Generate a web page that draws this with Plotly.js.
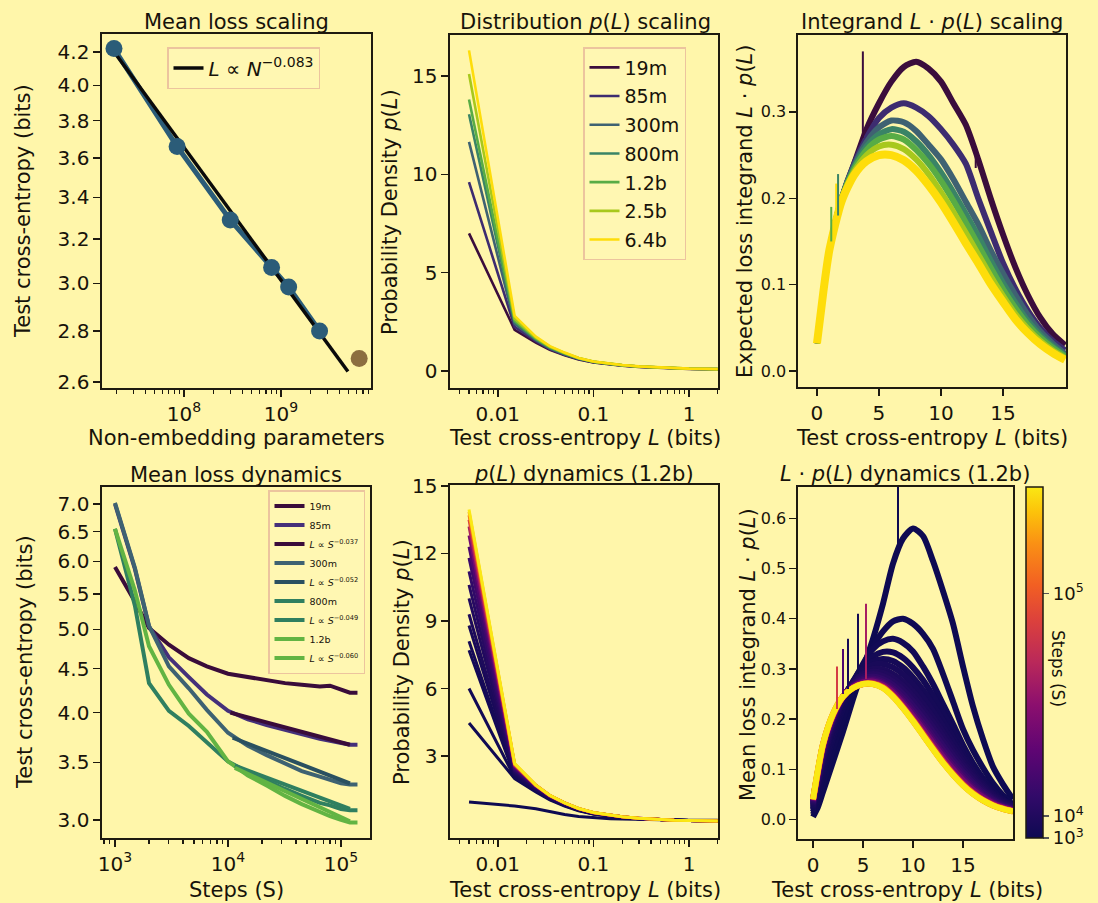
<!DOCTYPE html>
<html><head><meta charset="utf-8">
<script src="https://cdn.plot.ly/plotly-3.0.1.min.js"></script>
<style>html,body{margin:0;padding:0;background:#fff6aa;}#chart{width:1098px;height:903px;}</style>
</head><body><div id="chart"></div>
<script>
// ---------------- DATA ----------------
// Panel 1: mean loss scaling
const PARAMS = [1.9e7, 8.5e7, 3.0e8, 8.0e8, 1.2e9, 2.5e9];
const MEAN_LOSS = [4.22, 3.66, 3.29, 3.07, 2.985, 2.80];
const OUTLIER_PARAMS = [6.4e9];
const OUTLIER_LOSS = [2.69];
const FIT_PARAMS = [1.9e7, 4.9e9];
const FIT_LOSS = [4.20, 2.64];

// Model sizes
const SIZE_LABELS = ['19m', '85m', '300m', '800m', '1.2b', '2.5b', '6.4b'];

// Panel 2: p(L) per model size
const L_BINS = [0.005, 0.015, 0.025, 0.035, 0.05, 0.07, 0.1, 0.15, 0.2, 0.3, 0.5, 0.7, 1, 1.5, 2];
const PDF_19M  = [7.0, 2.1, 1.45, 1.08, 0.8, 0.59, 0.44, 0.33, 0.27, 0.21, 0.16, 0.13, 0.11, 0.1, 0.09];
const PDF_85M  = [9.6, 2.25, 1.52, 1.12, 0.83, 0.61, 0.45, 0.34, 0.28, 0.22, 0.165, 0.135, 0.115, 0.1, 0.095];
const PDF_300M = [11.65, 2.4, 1.58, 1.16, 0.86, 0.63, 0.46, 0.35, 0.29, 0.225, 0.17, 0.14, 0.12, 0.105, 0.1];
const PDF_800M = [13.05, 2.5, 1.62, 1.19, 0.88, 0.64, 0.47, 0.355, 0.295, 0.23, 0.172, 0.142, 0.122, 0.107, 0.1];
const PDF_1_2B = [13.8, 2.55, 1.65, 1.21, 0.9, 0.65, 0.475, 0.36, 0.3, 0.232, 0.174, 0.144, 0.124, 0.108, 0.1];
const PDF_2_5B = [15.1, 2.65, 1.7, 1.24, 0.92, 0.66, 0.48, 0.365, 0.303, 0.235, 0.176, 0.146, 0.125, 0.11, 0.1];
const PDF_6_4B = [16.3, 2.8, 1.75, 1.27, 0.94, 0.67, 0.49, 0.37, 0.305, 0.237, 0.178, 0.148, 0.127, 0.112, 0.1];

// Panel 3: L*p(L) per model size
const L_GRID = [0, 0.5, 1, 2, 3, 4, 5, 6, 7, 8, 9, 10, 11, 12, 13, 14, 15, 16, 17, 18, 19, 20];
const INT_19M  = [0.032, 0.09, 0.14, 0.2, 0.24, 0.28, 0.31, 0.335, 0.352, 0.358, 0.35, 0.335, 0.31, 0.285, 0.245, 0.2, 0.158, 0.12, 0.088, 0.062, 0.043, 0.03];
const INT_85M  = [0.032, 0.09, 0.14, 0.2, 0.24, 0.27, 0.293, 0.305, 0.31, 0.305, 0.295, 0.28, 0.262, 0.24, 0.2, 0.162, 0.125, 0.095, 0.07, 0.05, 0.035, 0.024];
const INT_300M = [0.032, 0.09, 0.14, 0.2, 0.238, 0.265, 0.282, 0.29, 0.288, 0.278, 0.262, 0.245, 0.222, 0.196, 0.17, 0.14, 0.113, 0.088, 0.065, 0.046, 0.032, 0.02];
const INT_800M = [0.032, 0.09, 0.14, 0.2, 0.236, 0.26, 0.274, 0.28, 0.277, 0.266, 0.25, 0.23, 0.207, 0.182, 0.156, 0.128, 0.102, 0.079, 0.058, 0.042, 0.029, 0.018];
const INT_1_2B = [0.032, 0.09, 0.14, 0.2, 0.234, 0.256, 0.268, 0.272, 0.268, 0.256, 0.24, 0.22, 0.197, 0.172, 0.146, 0.12, 0.095, 0.073, 0.054, 0.039, 0.027, 0.017];
const INT_2_5B = [0.032, 0.09, 0.14, 0.199, 0.231, 0.25, 0.26, 0.262, 0.257, 0.245, 0.228, 0.207, 0.184, 0.16, 0.135, 0.11, 0.087, 0.066, 0.049, 0.035, 0.024, 0.015];
const INT_6_4B = [0.032, 0.09, 0.14, 0.197, 0.227, 0.243, 0.25, 0.25, 0.244, 0.232, 0.215, 0.195, 0.172, 0.148, 0.125, 0.101, 0.08, 0.06, 0.044, 0.031, 0.021, 0.013];
// spikes (noise excursions) in panel 3: model index, L, low, high
const SPIKE3_MODEL = [0, 0, 4, 6, 3];
const SPIKE3_L     = [3.7, 12.8, 1.15, 1.55, 1.7];
const SPIKE3_LO    = [0.27, 0.235, 0.15, 0.17, 0.18];
const SPIKE3_HI    = [0.37, 0.26, 0.19, 0.217, 0.228];

// Panel 4: mean loss dynamics
const STEPS = [1000, 1500, 2000, 3000, 4500, 6500, 10000, 15000, 22000, 32000, 45000, 65000, 80000, 100000, 120000, 140000];
const LOSS_19M  = [5.91, 5.39, 5.02, 4.80, 4.63, 4.53, 4.44, 4.40, 4.37, 4.33, 4.31, 4.29, 4.30, 4.26, 4.22, 4.22];
const LOSS_85M  = [7.0, 5.88, 5.04, 4.64, 4.40, 4.20, 4.02, 3.93, 3.87, 3.82, 3.77, 3.73, 3.71, 3.69, 3.67, 3.67];
const LOSS_300M = [7.02, 5.9, 5.05, 4.53, 4.27, 4.03, 3.79, 3.66, 3.57, 3.49, 3.42, 3.37, 3.34, 3.31, 3.30, 3.30];
const LOSS_800M = [6.55, 5.33, 4.33, 4.02, 3.86, 3.70, 3.51, 3.41, 3.33, 3.26, 3.20, 3.14, 3.12, 3.09, 3.08, 3.08];
const LOSS_1_2B = [6.55, 5.55, 4.78, 4.31, 3.99, 3.80, 3.51, 3.38, 3.29, 3.20, 3.13, 3.06, 3.03, 3.00, 2.98, 2.98];
const FIT85_S  = [10500, 120000], FIT85_L  = [4.00, 3.67];
const FIT300_S = [11000, 120000], FIT300_L = [3.74, 3.31];
const FIT800_S = [11500, 120000], FIT800_L = [3.47, 3.09];
const FIT12_S  = [11500, 120000], FIT12_L  = [3.45, 2.99];

// Panels 5 & 6: dynamics of 1.2b model at checkpoints
const DYN_STEPS = [1000, 2000, 3000, 4000, 5000, 6000, 8000, 10000, 13000, 17000, 22000, 30000, 45000, 65000, 85000, 105000, 125000, 143000];
const STEP_MIN = 1000, STEP_MAX = 143000;
const PDF_S1000   = [0.96, 0.78, 0.66, 0.52, 0.4, 0.32, 0.26, 0.22, 0.2, 0.18, 0.17, 0.16, 0.15, 0.15, 0.15];
const PDF_S2000   = [4.47, 2.0, 1.4, 1.05, 0.78, 0.57, 0.42, 0.32, 0.27, 0.21, 0.17, 0.15, 0.14, 0.13, 0.12];
const PDF_S3000   = [6.0, 2.05, 1.45, 1.08, 0.8, 0.59, 0.43, 0.33, 0.27, 0.21, 0.17, 0.15, 0.135, 0.125, 0.12];
const PDF_S4000   = [7.7, 2.1, 1.48, 1.1, 0.82, 0.6, 0.44, 0.335, 0.275, 0.215, 0.17, 0.15, 0.135, 0.125, 0.12];
const PDF_S5000   = [8.1, 2.15, 1.5, 1.12, 0.83, 0.61, 0.45, 0.34, 0.28, 0.22, 0.17, 0.15, 0.135, 0.125, 0.12];
const PDF_S6000   = [8.8, 2.2, 1.53, 1.14, 0.85, 0.62, 0.455, 0.345, 0.285, 0.22, 0.17, 0.15, 0.135, 0.125, 0.12];
const PDF_S8000   = [9.3, 2.25, 1.56, 1.16, 0.86, 0.63, 0.46, 0.35, 0.29, 0.225, 0.172, 0.15, 0.135, 0.125, 0.12];
const PDF_S10000  = [10.0, 2.3, 1.59, 1.18, 0.87, 0.64, 0.465, 0.352, 0.29, 0.225, 0.172, 0.15, 0.135, 0.125, 0.12];
const PDF_S13000  = [10.6, 2.35, 1.61, 1.19, 0.88, 0.645, 0.47, 0.355, 0.293, 0.227, 0.173, 0.15, 0.135, 0.125, 0.12];
const PDF_S17000  = [11.2, 2.4, 1.63, 1.2, 0.89, 0.65, 0.473, 0.357, 0.295, 0.228, 0.173, 0.15, 0.135, 0.125, 0.12];
const PDF_S22000  = [11.8, 2.45, 1.65, 1.21, 0.9, 0.655, 0.476, 0.36, 0.297, 0.23, 0.174, 0.15, 0.135, 0.125, 0.12];
const PDF_S30000  = [12.3, 2.5, 1.67, 1.22, 0.905, 0.66, 0.48, 0.362, 0.299, 0.231, 0.175, 0.15, 0.135, 0.125, 0.12];
const PDF_S45000  = [12.8, 2.55, 1.68, 1.23, 0.91, 0.662, 0.482, 0.363, 0.3, 0.232, 0.175, 0.15, 0.135, 0.125, 0.12];
const PDF_S65000  = [13.2, 2.58, 1.69, 1.24, 0.915, 0.664, 0.484, 0.364, 0.3, 0.232, 0.175, 0.15, 0.135, 0.125, 0.12];
const PDF_S85000  = [13.5, 2.61, 1.7, 1.245, 0.918, 0.666, 0.486, 0.365, 0.301, 0.233, 0.176, 0.15, 0.135, 0.125, 0.12];
const PDF_S105000 = [13.7, 2.63, 1.7, 1.248, 0.92, 0.668, 0.488, 0.366, 0.302, 0.233, 0.176, 0.15, 0.135, 0.125, 0.12];
const PDF_S125000 = [13.85, 2.65, 1.7, 1.25, 0.92, 0.67, 0.49, 0.367, 0.302, 0.234, 0.176, 0.15, 0.135, 0.125, 0.12];
const PDF_S143000 = [13.95, 2.67, 1.71, 1.25, 0.92, 0.67, 0.49, 0.368, 0.303, 0.234, 0.176, 0.15, 0.135, 0.125, 0.12];

const INT_S1000   = [0.005, 0.025, 0.055, 0.115, 0.175, 0.24, 0.3, 0.36, 0.43, 0.51, 0.56, 0.58, 0.565, 0.515, 0.455, 0.39, 0.305, 0.225, 0.16, 0.105, 0.07, 0.04];
const INT_S2000   = [0.01, 0.035, 0.07, 0.14, 0.2, 0.26, 0.305, 0.345, 0.375, 0.395, 0.4, 0.39, 0.37, 0.34, 0.29, 0.235, 0.18, 0.138, 0.103, 0.072, 0.048, 0.03];
const INT_S3000   = [0.015, 0.05, 0.09, 0.16, 0.22, 0.27, 0.31, 0.34, 0.355, 0.36, 0.352, 0.335, 0.305, 0.27, 0.23, 0.19, 0.148, 0.112, 0.082, 0.058, 0.04, 0.028];
const INT_S4000   = [0.02, 0.06, 0.1, 0.17, 0.23, 0.275, 0.305, 0.325, 0.334, 0.333, 0.322, 0.303, 0.278, 0.247, 0.213, 0.177, 0.14, 0.107, 0.079, 0.057, 0.04, 0.028];
const INT_S5000   = [0.022, 0.065, 0.11, 0.18, 0.235, 0.275, 0.3, 0.315, 0.32, 0.316, 0.303, 0.283, 0.258, 0.229, 0.197, 0.164, 0.131, 0.1, 0.074, 0.053, 0.038, 0.027];
const INT_S6000   = [0.025, 0.07, 0.115, 0.185, 0.238, 0.274, 0.296, 0.308, 0.31, 0.303, 0.289, 0.269, 0.244, 0.216, 0.185, 0.154, 0.123, 0.095, 0.07, 0.051, 0.036, 0.026];
const INT_S8000   = [0.028, 0.075, 0.12, 0.19, 0.24, 0.273, 0.292, 0.3, 0.299, 0.29, 0.275, 0.255, 0.23, 0.203, 0.174, 0.144, 0.115, 0.089, 0.066, 0.048, 0.034, 0.025];
const INT_S10000  = [0.03, 0.078, 0.125, 0.195, 0.242, 0.272, 0.289, 0.295, 0.292, 0.282, 0.266, 0.245, 0.22, 0.194, 0.165, 0.136, 0.109, 0.084, 0.062, 0.045, 0.032, 0.024];
const INT_S13000  = [0.032, 0.082, 0.13, 0.198, 0.243, 0.27, 0.285, 0.29, 0.286, 0.275, 0.258, 0.236, 0.211, 0.184, 0.156, 0.128, 0.102, 0.078, 0.058, 0.042, 0.03, 0.022];
const INT_S17000  = [0.034, 0.086, 0.135, 0.2, 0.244, 0.268, 0.281, 0.285, 0.28, 0.268, 0.25, 0.227, 0.202, 0.175, 0.147, 0.12, 0.095, 0.073, 0.054, 0.039, 0.028, 0.021];
const INT_S22000  = [0.036, 0.09, 0.14, 0.203, 0.244, 0.266, 0.278, 0.281, 0.275, 0.262, 0.243, 0.219, 0.193, 0.166, 0.139, 0.113, 0.089, 0.068, 0.05, 0.036, 0.026, 0.02];
const INT_S30000  = [0.037, 0.092, 0.143, 0.205, 0.244, 0.265, 0.275, 0.278, 0.271, 0.257, 0.236, 0.212, 0.186, 0.158, 0.131, 0.106, 0.083, 0.063, 0.047, 0.034, 0.025, 0.019];
const INT_S45000  = [0.038, 0.094, 0.145, 0.206, 0.244, 0.264, 0.273, 0.275, 0.268, 0.253, 0.231, 0.206, 0.18, 0.152, 0.125, 0.1, 0.078, 0.059, 0.044, 0.032, 0.024, 0.018];
const INT_S65000  = [0.039, 0.096, 0.148, 0.208, 0.245, 0.263, 0.271, 0.272, 0.265, 0.248, 0.226, 0.2, 0.173, 0.145, 0.118, 0.093, 0.072, 0.054, 0.04, 0.03, 0.022, 0.017];
const INT_S85000  = [0.04, 0.097, 0.149, 0.209, 0.245, 0.262, 0.27, 0.271, 0.264, 0.247, 0.224, 0.198, 0.171, 0.143, 0.116, 0.091, 0.07, 0.053, 0.039, 0.029, 0.022, 0.016];
const INT_S105000 = [0.04, 0.098, 0.15, 0.21, 0.245, 0.262, 0.27, 0.27, 0.263, 0.246, 0.223, 0.197, 0.169, 0.141, 0.114, 0.09, 0.069, 0.052, 0.038, 0.028, 0.021, 0.016];
const INT_S125000 = [0.04, 0.099, 0.15, 0.21, 0.245, 0.262, 0.27, 0.27, 0.262, 0.245, 0.222, 0.196, 0.168, 0.14, 0.113, 0.089, 0.068, 0.051, 0.038, 0.028, 0.021, 0.016];
const INT_S143000 = [0.04, 0.1, 0.15, 0.21, 0.245, 0.262, 0.27, 0.27, 0.262, 0.245, 0.222, 0.196, 0.168, 0.14, 0.113, 0.089, 0.068, 0.051, 0.038, 0.028, 0.021, 0.016];
// spikes in panel 6: checkpoint step, L, low, high
const SPIKE6_STEP = [1000, 3000, 65000, 30000, 85000, 5000];
const SPIKE6_L    = [8.5, 4.5, 5.3, 3.0, 2.4, 3.5];
const SPIKE6_LO   = [0.54, 0.29, 0.28, 0.25, 0.22, 0.26];
const SPIKE6_HI   = [0.70, 0.41, 0.43, 0.34, 0.305, 0.36];

// ---------------- STYLE ----------------
const W = 1098, H = 903;
const BG = '#fff6aa';
const FONT = 'DejaVu Sans, Liberation Sans, sans-serif';
const TXT = '#17130a';
const AX = '#1e1a10';
const SIZE_COLORS = ['#3b0d3c', '#3d2c70', '#3f6272', '#3a8466', '#58ac45', '#a8c81c', '#fedd0a'];
const BLUE = '#2b5c78', BROWN = '#8c6e40';
const STEP_SCALE = [[0,'rgb(14,10,82)'],[0.12,'rgb(50,10,105)'],[0.25,'rgb(95,5,115)'],[0.38,'rgb(140,15,110)'],[0.5,'rgb(185,40,90)'],[0.62,'rgb(220,65,60)'],[0.72,'rgb(242,95,35)'],[0.84,'rgb(250,145,20)'],[0.93,'rgb(252,195,10)'],[1,'rgb(250,232,20)']];

function rgbOf(s){ return s.match(/\d+/g).map(Number); }
function colorAt(scale, t){
  t = Math.max(0, Math.min(1, t));
  for (let i = 1; i < scale.length; i++) {
    if (t <= scale[i][0]) {
      const t0 = scale[i-1][0], t1 = scale[i][0];
      const a = rgbOf(scale[i-1][1]), b = rgbOf(scale[i][1]);
      const f = (t - t0) / ((t1 - t0) || 1);
      return 'rgb(' + a.map((v,k) => Math.round(v + (b[k]-v)*f)).join(',') + ')';
    }
  }
  return scale[scale.length-1][1];
}
function stepColor(s){ return colorAt(STEP_SCALE, (s - STEP_MIN) / (STEP_MAX - STEP_MIN)); }

const PDF_SIZES = [PDF_19M, PDF_85M, PDF_300M, PDF_800M, PDF_1_2B, PDF_2_5B, PDF_6_4B];
const INT_SIZES = [INT_19M, INT_85M, INT_300M, INT_800M, INT_1_2B, INT_2_5B, INT_6_4B];
const PDF_DYN = [PDF_S1000, PDF_S2000, PDF_S3000, PDF_S4000, PDF_S5000, PDF_S6000, PDF_S8000, PDF_S10000, PDF_S13000, PDF_S17000, PDF_S22000, PDF_S30000, PDF_S45000, PDF_S65000, PDF_S85000, PDF_S105000, PDF_S125000, PDF_S143000];
const INT_DYN = [INT_S1000, INT_S2000, INT_S3000, INT_S4000, INT_S5000, INT_S6000, INT_S8000, INT_S10000, INT_S13000, INT_S17000, INT_S22000, INT_S30000, INT_S45000, INT_S65000, INT_S85000, INT_S105000, INT_S125000, INT_S143000];

const traces = [];
// Panel 1
traces.push({x: PARAMS, y: MEAN_LOSS, xaxis:'x', yaxis:'y', mode:'lines', line:{color:BLUE, width:5}, showlegend:false, hoverinfo:'skip'});
traces.push({x: FIT_PARAMS, y: FIT_LOSS, xaxis:'x', yaxis:'y', mode:'lines', line:{color:'#0a0a0a', width:3.5},
  name:'<i>L</i> ∝ <i>N</i><sup>−0.083</sup>', legend:'legend', showlegend:true});
traces.push({x: PARAMS, y: MEAN_LOSS, xaxis:'x', yaxis:'y', mode:'markers', marker:{color:BLUE, size:17}, showlegend:false});
traces.push({x: OUTLIER_PARAMS, y: OUTLIER_LOSS, xaxis:'x', yaxis:'y', mode:'markers', marker:{color:BROWN, size:17}, showlegend:false, cliponaxis:false});

// Panel 2
PDF_SIZES.forEach((arr, i) => traces.push({x: L_BINS, y: arr, xaxis:'x2', yaxis:'y2', mode:'lines',
  line:{color:SIZE_COLORS[i], width:2.6}, name: SIZE_LABELS[i], legend:'legend2', legendgroup:'g'+i}));

// Panel 3
INT_SIZES.forEach((arr, i) => traces.push({x: L_GRID, y: arr, xaxis:'x3', yaxis:'y3', mode:'lines',
  line:{color:SIZE_COLORS[i], width: i === 6 ? 8 : 6, shape:'spline', smoothing:0.7}, showlegend:false}));
SPIKE3_L.forEach((l, k) => traces.push({x:[l, l], y:[SPIKE3_LO[k], SPIKE3_HI[k]], xaxis:'x3', yaxis:'y3', mode:'lines',
  line:{color:SIZE_COLORS[SPIKE3_MODEL[k]], width:2}, showlegend:false}));

// Panel 4
const P4 = [
  {x:STEPS, y:LOSS_19M, c:'#3a0c3a', n:'19m', r:1},
  {x:STEPS, y:LOSS_85M, c:'#45307a', n:'85m', r:2},
  {x:STEPS, y:LOSS_300M, c:'#3e6272', n:'300m', r:4},
  {x:STEPS, y:LOSS_800M, c:'#2f7f60', n:'800m', r:6},
  {x:STEPS, y:LOSS_1_2B, c:'#62b443', n:'1.2b', r:8},
  {x:FIT85_S, y:FIT85_L, c:'#3a0c3a', n:'<i>L</i> ∝ <i>S</i><sup>−0.037</sup>', r:3},
  {x:FIT300_S, y:FIT300_L, c:'#2a5060', n:'<i>L</i> ∝ <i>S</i><sup>−0.052</sup>', r:5},
  {x:FIT800_S, y:FIT800_L, c:'#2f7f60', n:'<i>L</i> ∝ <i>S</i><sup>−0.049</sup>', r:7},
  {x:FIT12_S, y:FIT12_L, c:'#62b443', n:'<i>L</i> ∝ <i>S</i><sup>−0.060</sup>', r:9}
];
P4.forEach((d, i) => traces.push({x:d.x, y:d.y, xaxis:'x4', yaxis:'y4', mode:'lines', line:{color:d.c, width:4},
  name:d.n, legend:'legend3', legendrank:d.r, legendgroup:'h'+i}));

// Panel 5
PDF_DYN.forEach((arr, i) => traces.push({x:L_BINS, y:arr, xaxis:'x5', yaxis:'y5', mode:'lines',
  line:{color:stepColor(DYN_STEPS[i]), width:3}, showlegend:false}));

// Panel 6
INT_DYN.forEach((arr, i) => traces.push({x:L_GRID, y:arr, xaxis:'x6', yaxis:'y6', mode:'lines',
  line:{color:stepColor(DYN_STEPS[i]), width:6, shape:'spline', smoothing:0.7}, showlegend:false}));
SPIKE6_L.forEach((l, k) => traces.push({x:[l, l], y:[SPIKE6_LO[k], SPIKE6_HI[k]], xaxis:'x6', yaxis:'y6', mode:'lines',
  line:{color:stepColor(SPIKE6_STEP[k]), width:2}, showlegend:false}));
// colorbar carrier
traces.push({x:[10, 10], y:[0.3, 0.3], xaxis:'x6', yaxis:'y6', mode:'markers', showlegend:false, hoverinfo:'skip',
  marker:{size:1, opacity:0, color:[STEP_MIN, STEP_MAX], cmin:STEP_MIN, cmax:STEP_MAX, colorscale:STEP_SCALE, showscale:true,
    colorbar:{x:1026/W, xanchor:'left', xpad:0, y:1-838/H, yanchor:'bottom', ypad:0, len:351, lenmode:'pixels',
      thickness:17, thicknessmode:'pixels', outlinewidth:1.5, outlinecolor:AX, bgcolor:'rgba(0,0,0,0)',
      tickmode:'array', tickvals:[1000, 10000, 100000], ticktext:['10<sup>3</sup>','10<sup>4</sup>','10<sup>5</sup>'],
      ticks:'outside', ticklen:6, tickwidth:1.5, tickcolor:'#555', tickfont:{family:FONT, size:18, color:TXT}}}});

// ---------------- LAYOUT ----------------
function dx(a, b){ return [a/W, b/W]; }
function dy(top, bottom){ return [1 - bottom/H, 1 - top/H]; }
function ax(extra){
  return Object.assign({showline:true, mirror:true, linecolor:AX, linewidth:1.6, ticks:'outside', ticklen:7, tickwidth:1.4,
    tickcolor:AX, showgrid:false, zeroline:false, tickfont:{family:FONT, size:20, color:TXT}}, extra);
}
const MINOR = {ticks:'outside', ticklen:4, tickwidth:1.1, tickcolor:AX, dtick:'D1', showgrid:false};
const LOG_L_TICKS = {tickmode:'array', tickvals:[0.01, 0.1, 1], ticktext:['0.01','0.1','1']};

function ann(text, px, py, extra){
  return Object.assign({text:text, x:px/W, y:1 - py/H, xref:'paper', yref:'paper', xanchor:'center', yanchor:'middle',
    showarrow:false, font:{family:FONT, size:21, color:TXT}}, extra || {});
}
const ROT = {textangle:-90};

const legendBase = {bgcolor:'#fff7b2', bordercolor:'#ecc49e', borderwidth:1.5, xanchor:'left', yanchor:'top'};

const layout = {
  width:W, height:H, paper_bgcolor:BG, plot_bgcolor:BG,
  margin:{l:0, r:0, t:0, b:0}, font:{family:FONT, color:TXT},
  xaxis: ax({domain:dx(102,371), anchor:'y', type:'log', range:[7.155, 9.928], tickmode:'array', tickvals:[1e8,1e9],
    ticktext:['10<sup>8</sup>','10<sup>9</sup>'], minor:MINOR}),
  yaxis: ax({domain:dy(34,388), anchor:'x', type:'log', range:[0.4112, 0.6345], tickmode:'array',
    tickvals:[2.6,2.8,3.0,3.2,3.4,3.6,3.8,4.0,4.2], ticktext:['2.6','2.8','3.0','3.2','3.4','3.6','3.8','4.0','4.2']}),
  xaxis2: ax(Object.assign({domain:dx(450,718), anchor:'y2', type:'log', range:[-2.50, 0.303], minor:MINOR}, LOG_L_TICKS)),
  yaxis2: ax({domain:dy(35,388), anchor:'x2', range:[-0.86, 17.08], tickmode:'array', tickvals:[0,5,10,15]}),
  xaxis3: ax({domain:dx(798,1066), anchor:'y3', range:[-1.53, 20.08], tickmode:'array', tickvals:[0,5,10,15]}),
  yaxis3: ax({domain:dy(35,387), anchor:'x3', range:[-0.0185, 0.389], tickmode:'array', tickvals:[0,0.1,0.2,0.3],
    ticktext:['0.0','0.1','0.2','0.3'], tickfont:{family:FONT, size:16, color:TXT}}),
  xaxis4: ax({domain:dx(102,370), anchor:'y4', type:'log', range:[2.885, 5.257], tickmode:'array', tickvals:[1e3,1e4,1e5],
    ticktext:['10<sup>3</sup>','10<sup>4</sup>','10<sup>5</sup>'], minor:MINOR}),
  yaxis4: ax({domain:dy(487,838), anchor:'x4', type:'log', range:[0.4561, 0.8649], tickmode:'array',
    tickvals:[3.0,3.5,4.0,4.5,5.0,5.5,6.0,6.5,7.0], ticktext:['3.0','3.5','4.0','4.5','5.0','5.5','6.0','6.5','7.0']}),
  xaxis5: ax(Object.assign({domain:dx(450,718), anchor:'y5', type:'log', range:[-2.50, 0.303], minor:MINOR}, LOG_L_TICKS)),
  yaxis5: ax({domain:dy(485,838), anchor:'x5', range:[-0.64, 15.04], tickmode:'array', tickvals:[3,6,9,12,15]}),
  xaxis6: ax({domain:dx(798,1013), anchor:'y6', range:[-1.5, 20.0], tickmode:'array', tickvals:[0,5,10,15]}),
  yaxis6: ax({domain:dy(487,839), anchor:'x6', range:[-0.039, 0.6627], tickmode:'array', tickvals:[0,0.1,0.2,0.3,0.4,0.5,0.6],
    ticktext:['0.0','0.1','0.2','0.3','0.4','0.5','0.6'], tickfont:{family:FONT, size:16, color:TXT}}),
  legend: Object.assign({}, legendBase, {x:167/W, y:1-47/H, font:{family:FONT, size:20, color:TXT}}),
  legend2: Object.assign({}, legendBase, {x:583/W, y:1-47/H, font:{family:FONT, size:19, color:TXT}, tracegroupgap:1, traceorder:'grouped'}),
  legend3: Object.assign({}, legendBase, {x:268/W, y:1-490/H, font:{family:FONT, size:9.5, color:TXT}, tracegroupgap:0, traceorder:'grouped'}),
  annotations: [
    ann('Mean loss scaling', 236, 22),
    ann('Distribution <i>p</i>(<i>L</i>) scaling', 585, 22),
    ann('Integrand <i>L</i> · <i>p</i>(<i>L</i>) scaling', 932, 22),
    ann('Mean loss dynamics', 236, 475),
    ann('<i>p</i>(<i>L</i>) dynamics (1.2b)', 584, 474),
    ann('<i>L</i> · <i>p</i>(<i>L</i>) dynamics (1.2b)', 905, 474),
    ann('Test cross-entropy (bits)', 23, 211, ROT),
    ann('Non-embedding parameters', 236, 438),
    ann('Probability Density <i>p</i>(<i>L</i>)', 390, 212, ROT),
    ann('Test cross-entropy <i>L</i> (bits)', 585, 438),
    ann('Expected loss integrand <i>L</i> · <i>p</i>(<i>L</i>)', 745, 211, ROT),
    ann('Test cross-entropy <i>L</i> (bits)', 932, 438),
    ann('Test cross-entropy (bits)', 25, 662, ROT),
    ann('Steps (S)', 236, 890),
    ann('Probability Density <i>p</i>(<i>L</i>)', 402, 662, ROT),
    ann('Test cross-entropy <i>L</i> (bits)', 585, 890),
    ann('Mean loss integrand <i>L</i> · <i>p</i>(<i>L</i>)', 748, 655, ROT),
    ann('Test cross-entropy <i>L</i> (bits)', 907, 890),
    ann('Steps (S)', 1058, 668, {textangle:90, font:{family:FONT, size:17, color:TXT}})
  ]
};

Plotly.newPlot('chart', traces, layout, {staticPlot:true, displayModeBar:false});
</script>
</body></html>
